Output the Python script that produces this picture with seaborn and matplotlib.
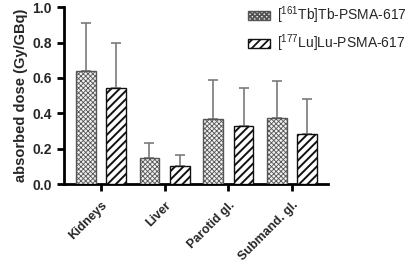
import numpy as np
import pandas as pd
import seaborn as sns
import matplotlib
matplotlib.use("Agg")
import matplotlib.pyplot as plt
from matplotlib.patches import Patch

organs = ["Kidneys", "Liver", "Parotid gl.", "Submand. gl."]
tracers = [r"[$^{161}$Tb]Tb-PSMA-617", r"[$^{177}$Lu]Lu-PSMA-617"]
tb_mean = [0.64, 0.145, 0.367, 0.371]
tb_sd = [0.27, 0.088, 0.219, 0.209]
lu_mean = [0.54, 0.10, 0.33, 0.284]
lu_sd = [0.257, 0.065, 0.214, 0.198]
yticks = [0.0, 0.2, 0.4, 0.6, 0.8, 1.0]

df = pd.DataFrame({
    "organ": organs * 2,
    "tracer": [tracers[0]] * 4 + [tracers[1]] * 4,
    "dose": tb_mean + lu_mean,
})
sds = tb_sd + lu_sd

sns.set_style("ticks")
plt.rcParams["font.family"] = ["Liberation Sans", "DejaVu Sans"]
plt.rcParams["mathtext.default"] = "regular"
plt.rcParams["hatch.linewidth"] = 1.3

fig = plt.figure(figsize=(4.15, 2.64), dpi=100)
ax = fig.add_axes([0.154, 0.303, 0.636, 0.670])

styles = [
    dict(facecolor="#f0f0f0", hatch="x" * 7, edgecolor="#555555",
         hatchcolor="#b4b4b4", hlw=0.6),
    dict(facecolor="white", hatch="/" * 4, edgecolor="#111111",
         hatchcolor="#111111", hlw=1.4),
]


def style_patch(p, st):
    p.set_facecolor(st["facecolor"])
    p.set_hatch(st["hatch"])
    p.set_edgecolor(st["edgecolor"])
    if hasattr(p, "set_hatchcolor"):
        p.set_hatchcolor(st["hatchcolor"])
    if hasattr(p, "set_hatch_linewidth"):
        p.set_hatch_linewidth(st["hlw"])
    p.set_linewidth(1.0)


sns.barplot(data=df, x="organ", y="dose", hue="tracer", order=organs,
            hue_order=tracers, errorbar=None, width=0.95, gap=0.35,
            legend=False, ax=ax, zorder=3)

bars = list(ax.patches)[:8]
for i, p in enumerate(bars):
    style_patch(p, styles[i // 4])
    cx = p.get_x() + p.get_width() / 2
    h = p.get_height()
    ax.errorbar([cx], [h], yerr=[[0], [sds[i]]], fmt="none",
                ecolor="#7a7a7a", elinewidth=1.2, capsize=3.6, capthick=1.2,
                zorder=2)

ax.set_ylim(0, 1.0)
ax.set_xlim(-0.58, 3.56)
ax.set_yticks(yticks)
ax.set_yticklabels([f"{v:.1f}" for v in yticks], fontsize=10, fontweight="bold")
ax.set_xticks(range(len(organs)))
ax.set_xticklabels(organs, rotation=45, ha="right", va="top",
                   rotation_mode="anchor", fontsize=9, fontweight="bold")
ax.set_xlabel("")
ax.set_ylabel("absorbed dose (Gy/GBq)", fontsize=10.5, fontweight="bold", labelpad=3)
ax.tick_params(axis="both", width=2, length=5, color="black")
ax.tick_params(axis="x", pad=6)
for s in ["left", "bottom"]:
    ax.spines[s].set_linewidth(2)
    ax.spines[s].set_color("black")
sns.despine(ax=ax)

handles = []
for k in range(2):
    h = Patch(label=tracers[k])
    style_patch(h, styles[k])
    handles.append(h)
fig.legend(handles=handles, loc="upper left", bbox_to_anchor=(0.568, 1.03),
           frameon=False, fontsize=10, handlelength=1.6, handleheight=0.6,
           handletextpad=0.5, labelspacing=0.45)

fig.savefig("out.png", dpi=100)
